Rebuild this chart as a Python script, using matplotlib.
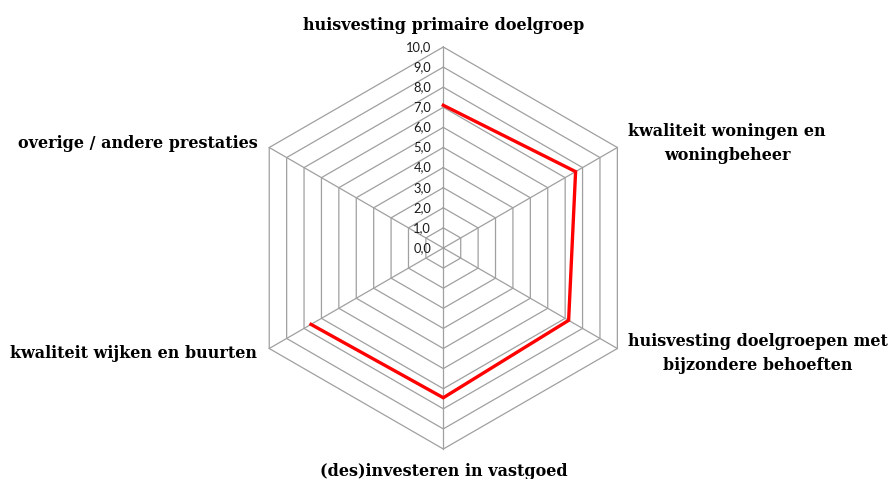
import numpy as np
import matplotlib
matplotlib.use("Agg")
import matplotlib.pyplot as plt

categories = [
    "huisvesting primaire doelgroep",
    "kwaliteit woningen en\nwoningbeheer",
    "huisvesting doelgroepen met\nbijzondere behoeften",
    "(des)investeren in vastgoed",
    "kwaliteit wijken en buurten",
    "overige / andere prestaties",
]
values = [7.1, 7.6, 7.2, 7.45, 7.6, None]
tick_values = [0, 1, 2, 3, 4, 5, 6, 7, 8, 9, 10]
tick_labels = ["0,0", "1,0", "2,0", "3,0", "4,0", "5,0", "6,0", "7,0", "8,0", "9,0", "10,0"]

W, H = 890, 479
fig = plt.figure(figsize=(W / 100, H / 100), dpi=100)
cx, cy = 443.3, 248.0
unit = 20.1
L = 11.0
half = L * unit
ax = fig.add_axes([(cx - half) / W, (H - cy - half) / H, 2 * half / W, 2 * half / H])
ax.set_xlim(-L, L)
ax.set_ylim(-L, L)
ax.axis("off")

n = len(categories)
angles = np.pi / 2 - np.arange(n) * 2 * np.pi / n
grid_col = "#a0a0a0"

# hexagonal grid rings
for t in tick_values[1:]:
    xs = [t * np.cos(a) for a in angles] + [t * np.cos(angles[0])]
    ys = [t * np.sin(a) for a in angles] + [t * np.sin(angles[0])]
    ax.plot(xs, ys, color=grid_col, lw=0.9, zorder=1, clip_on=False)
# spokes
for a in angles:
    ax.plot([0, 10 * np.cos(a)], [0, 10 * np.sin(a)], color=grid_col, lw=0.9, zorder=1, clip_on=False)

# data line (missing value breaks the line)
xs, ys = [], []
for v, a in zip(values, angles):
    if v is None:
        xs.append(np.nan); ys.append(np.nan)
    else:
        xs.append(v * np.cos(a)); ys.append(v * np.sin(a))
ax.plot(xs, ys, color="#ff0000", lw=2.4, zorder=3, solid_joinstyle="miter", clip_on=False)

# tick labels
for t, lab in zip(tick_values, tick_labels):
    ax.text(-0.6, t, lab, ha="right", va="center", fontsize=9.3, family="Lato", color="#1a1a1a")

# category labels
lab_font = dict(family="DejaVu Serif", fontweight="bold", fontsize=11.5, color="black",
                ha="center", va="center", linespacing=1.5)
def px2d(px, py):
    return (px - cx) / unit, (cy - py) / unit

label_pos = [(443.5, 25), (727, 143.5), (758, 353.5), (443.5, 471), (134, 353), (137.5, 144)]
for lab, (px, py) in zip(categories, label_pos):
    x, y = px2d(px, py)
    ax.text(x, y, lab, clip_on=False, **lab_font)

fig.savefig("out.png", dpi=100)
